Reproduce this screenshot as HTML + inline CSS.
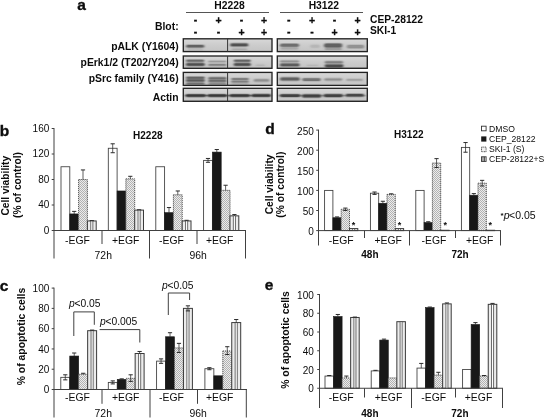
<!DOCTYPE html>
<html lang="en">
<head>
<meta charset="utf-8">
<title>Figure: CEP-28122 and SKI-1 in H2228 and H3122 cells</title>
<style>
html,body{margin:0;padding:0;background:#fff;}
body{width:545px;height:420px;overflow:hidden;}
svg{display:block;}
svg text{font-family:"Liberation Sans",Arial,Helvetica,sans-serif;fill:#0c0c0c;}
</style>
</head>
<body>
<svg width="545" height="420" viewBox="0 0 545 420">
<defs>
<filter id="bl" x="-5%" y="-5%" width="110%" height="110%"><feGaussianBlur stdDeviation="0.85 0.5"/></filter>
<linearGradient id="bg" x1="0" y1="0" x2="0" y2="1"><stop offset="0" stop-color="#d8d8d8"/><stop offset="0.5" stop-color="#cccccc"/><stop offset="1" stop-color="#c4c4c4"/></linearGradient>
<filter id="fr" x="-2%" y="-10%" width="104%" height="120%"><feGaussianBlur stdDeviation="0.35"/></filter>
<pattern id="dots" width="2" height="2" patternUnits="userSpaceOnUse">
<rect width="2" height="2" fill="#ececec"/>
<rect x="0" y="0" width="1" height="1" fill="#b2b2b2"/>
<rect x="1" y="1" width="1" height="1" fill="#b2b2b2"/>
</pattern>
</defs>
<rect width="545" height="420" fill="#fff"/>
<g id="panel-a">
<text x="77.2" y="9.7" font-size="15.5" font-weight="bold" stroke="#141414" stroke-width="0.35">a</text>
<text x="178.6" y="29.5" font-size="10.38" font-weight="bold" text-anchor="end">Blot:</text>
<text x="178.6" y="49.5" font-size="10.38" font-weight="bold" text-anchor="end">pALK (Y1604)</text>
<text x="178.6" y="65.6" font-size="10.38" font-weight="bold" text-anchor="end">pErk1/2 (T202/Y204)</text>
<text x="178.6" y="82" font-size="10.38" font-weight="bold" text-anchor="end">pSrc family (Y416)</text>
<text x="178.6" y="101.4" font-size="10.38" font-weight="bold" text-anchor="end">Actin</text>
<text x="229.5" y="9.2" font-size="10.3" font-weight="bold" text-anchor="middle">H2228</text>
<text x="323.8" y="9.2" font-size="10.3" font-weight="bold" text-anchor="middle">H3122</text>
<line x1="186" y1="12.5" x2="269" y2="12.5" stroke="#555" stroke-width="1"/>
<line x1="280" y1="12.5" x2="363" y2="12.5" stroke="#555" stroke-width="1"/>
<text x="195.5" y="22.5" font-size="10.5" font-weight="bold" text-anchor="middle" stroke="#141414" stroke-width="0.3">-</text>
<text x="218.5" y="23.75" font-size="10.5" font-weight="bold" text-anchor="middle" stroke="#141414" stroke-width="0.3">+</text>
<text x="241.5" y="22.5" font-size="10.5" font-weight="bold" text-anchor="middle" stroke="#141414" stroke-width="0.3">-</text>
<text x="264" y="23.75" font-size="10.5" font-weight="bold" text-anchor="middle" stroke="#141414" stroke-width="0.3">+</text>
<text x="195.5" y="34.5" font-size="10.5" font-weight="bold" text-anchor="middle" stroke="#141414" stroke-width="0.3">-</text>
<text x="218.5" y="34.5" font-size="10.5" font-weight="bold" text-anchor="middle" stroke="#141414" stroke-width="0.3">-</text>
<text x="241.5" y="35.8" font-size="10.5" font-weight="bold" text-anchor="middle" stroke="#141414" stroke-width="0.3">+</text>
<text x="264" y="35.8" font-size="10.5" font-weight="bold" text-anchor="middle" stroke="#141414" stroke-width="0.3">+</text>
<text x="288.75" y="22.5" font-size="10.5" font-weight="bold" text-anchor="middle" stroke="#141414" stroke-width="0.3">-</text>
<text x="312" y="23.75" font-size="10.5" font-weight="bold" text-anchor="middle" stroke="#141414" stroke-width="0.3">+</text>
<text x="334.5" y="22.5" font-size="10.5" font-weight="bold" text-anchor="middle" stroke="#141414" stroke-width="0.3">-</text>
<text x="357.5" y="23.75" font-size="10.5" font-weight="bold" text-anchor="middle" stroke="#141414" stroke-width="0.3">+</text>
<text x="288.75" y="34.5" font-size="10.5" font-weight="bold" text-anchor="middle" stroke="#141414" stroke-width="0.3">-</text>
<text x="312" y="34.5" font-size="10.5" font-weight="bold" text-anchor="middle" stroke="#141414" stroke-width="0.3">-</text>
<text x="334.5" y="35.8" font-size="10.5" font-weight="bold" text-anchor="middle" stroke="#141414" stroke-width="0.3">+</text>
<text x="357.5" y="35.8" font-size="10.5" font-weight="bold" text-anchor="middle" stroke="#141414" stroke-width="0.3">+</text>
<text x="370" y="22.5" font-size="10.25" font-weight="bold">CEP-28122</text>
<text x="370" y="34.2" font-size="10.25" font-weight="bold">SKI-1</text>
<rect x="183.3" y="38.8" width="88.69999999999999" height="12.80" fill="url(#bg)"/>
<rect x="183.3" y="56" width="88.69999999999999" height="12.30" fill="url(#bg)"/>
<rect x="183.3" y="72.4" width="88.69999999999999" height="13.00" fill="url(#bg)"/>
<rect x="183.3" y="88.3" width="88.69999999999999" height="13.00" fill="url(#bg)"/>
<rect x="277.3" y="38.8" width="90.0" height="12.80" fill="url(#bg)"/>
<rect x="277.3" y="56" width="90.0" height="12.30" fill="url(#bg)"/>
<rect x="277.3" y="72.4" width="90.0" height="13.00" fill="url(#bg)"/>
<rect x="277.3" y="88.3" width="90.0" height="13.00" fill="url(#bg)"/>
<g filter="url(#bl)">
<rect x="185.70" y="44.10" width="19.10" height="4.40" rx="2.20" fill="#4a4a4a" opacity="0.25"/>
<rect x="186.5" y="45.00" width="17.50" height="2.6" rx="1.3" fill="#4a4a4a" opacity="0.76"/>
<rect x="229.70" y="42.60" width="19.10" height="4.60" rx="2.30" fill="#3c3c3c" opacity="0.27"/>
<rect x="230.5" y="43.50" width="17.50" height="2.8" rx="1.4" fill="#3c3c3c" opacity="0.80"/>
<rect x="231.20" y="47.60" width="16.60" height="3.40" rx="1.70" fill="#888" opacity="0.13"/>
<rect x="232" y="48.50" width="15.00" height="1.6" rx="0.8" fill="#888" opacity="0.38"/>
<rect x="187.20" y="48.20" width="16.60" height="3.20" rx="1.60" fill="#999" opacity="0.08"/>
<rect x="188" y="49.10" width="15.00" height="1.4" rx="0.7" fill="#999" opacity="0.25"/>
<rect x="185.50" y="58.90" width="19.30" height="3.80" rx="1.90" fill="#555" opacity="0.25"/>
<rect x="186.3" y="59.80" width="17.70" height="2.0" rx="1.0" fill="#555" opacity="0.76"/>
<rect x="185.50" y="62.30" width="19.80" height="4.40" rx="2.20" fill="#383838" opacity="0.27"/>
<rect x="186.3" y="63.20" width="18.20" height="2.6" rx="1.3" fill="#383838" opacity="0.80"/>
<rect x="207.70" y="59.75" width="19.10" height="3.30" rx="1.65" fill="#777" opacity="0.17"/>
<rect x="208.5" y="60.65" width="17.50" height="1.5" rx="0.75" fill="#777" opacity="0.50"/>
<rect x="207.70" y="63.05" width="19.10" height="3.70" rx="1.85" fill="#666" opacity="0.21"/>
<rect x="208.5" y="63.95" width="17.50" height="1.9" rx="0.95" fill="#666" opacity="0.63"/>
<rect x="233.20" y="58.90" width="18.10" height="3.80" rx="1.90" fill="#505050" opacity="0.25"/>
<rect x="234" y="59.80" width="16.50" height="2.0" rx="1.0" fill="#505050" opacity="0.76"/>
<rect x="233.20" y="62.30" width="18.10" height="4.40" rx="2.20" fill="#383838" opacity="0.27"/>
<rect x="234" y="63.20" width="16.50" height="2.6" rx="1.3" fill="#383838" opacity="0.80"/>
<rect x="255.20" y="63.60" width="10.10" height="3.20" rx="1.60" fill="#999" opacity="0.11"/>
<rect x="256" y="64.50" width="8.50" height="1.4" rx="0.7" fill="#999" opacity="0.34"/>
<rect x="185.50" y="76.55" width="19.80" height="7.30" rx="3.65" fill="#777" opacity="0.10"/>
<rect x="186.3" y="77.45" width="18.20" height="5.5" rx="2.75" fill="#777" opacity="0.29"/>
<rect x="207.70" y="76.75" width="19.40" height="7.30" rx="3.65" fill="#777" opacity="0.08"/>
<rect x="208.5" y="77.65" width="17.80" height="5.5" rx="2.75" fill="#777" opacity="0.25"/>
<rect x="185.50" y="75.90" width="19.80" height="3.80" rx="1.90" fill="#4a4a4a" opacity="0.24"/>
<rect x="186.3" y="76.80" width="18.20" height="2.0" rx="1.0" fill="#4a4a4a" opacity="0.71"/>
<rect x="185.50" y="78.70" width="19.80" height="3.80" rx="1.90" fill="#444" opacity="0.24"/>
<rect x="186.3" y="79.60" width="18.20" height="2.0" rx="1.0" fill="#444" opacity="0.71"/>
<rect x="185.50" y="82.10" width="19.80" height="3.40" rx="1.70" fill="#555" opacity="0.22"/>
<rect x="186.3" y="83.00" width="18.20" height="1.6" rx="0.8" fill="#555" opacity="0.67"/>
<rect x="207.70" y="76.35" width="19.40" height="3.70" rx="1.85" fill="#555" opacity="0.22"/>
<rect x="208.5" y="77.25" width="17.80" height="1.9" rx="0.95" fill="#555" opacity="0.67"/>
<rect x="207.70" y="79.05" width="19.40" height="3.70" rx="1.85" fill="#555" opacity="0.22"/>
<rect x="208.5" y="79.95" width="17.80" height="1.9" rx="0.95" fill="#555" opacity="0.67"/>
<rect x="207.70" y="82.30" width="19.40" height="3.20" rx="1.60" fill="#666" opacity="0.20"/>
<rect x="208.5" y="83.20" width="17.80" height="1.4" rx="0.7" fill="#666" opacity="0.59"/>
<rect x="230.70" y="77.15" width="18.60" height="3.70" rx="1.85" fill="#666" opacity="0.22"/>
<rect x="231.5" y="78.05" width="17.00" height="1.9" rx="0.95" fill="#666" opacity="0.67"/>
<rect x="230.70" y="79.75" width="18.60" height="3.70" rx="1.85" fill="#666" opacity="0.22"/>
<rect x="231.5" y="80.65" width="17.00" height="1.9" rx="0.95" fill="#666" opacity="0.67"/>
<rect x="230.70" y="82.60" width="18.60" height="2.80" rx="1.40" fill="#888" opacity="0.14"/>
<rect x="231.5" y="83.50" width="17.00" height="1.0" rx="0.5" fill="#888" opacity="0.42"/>
<rect x="253.20" y="78.30" width="16.60" height="4.20" rx="2.10" fill="#777" opacity="0.21"/>
<rect x="254" y="79.20" width="15.00" height="2.4" rx="1.2" fill="#777" opacity="0.63"/>
<rect x="184.20" y="94.00" width="87.10" height="3.20" rx="1.60" fill="#555" opacity="0.22"/>
<rect x="185" y="94.90" width="85.50" height="1.4" rx="0.7" fill="#555" opacity="0.67"/>
<rect x="185.20" y="93.45" width="21.10" height="4.30" rx="2.15" fill="#2e2e2e" opacity="0.27"/>
<rect x="186" y="94.35" width="19.50" height="2.5" rx="1.25" fill="#2e2e2e" opacity="0.80"/>
<rect x="207.20" y="93.45" width="20.10" height="4.30" rx="2.15" fill="#2e2e2e" opacity="0.27"/>
<rect x="208" y="94.35" width="18.50" height="2.5" rx="1.25" fill="#2e2e2e" opacity="0.80"/>
<rect x="229.20" y="93.45" width="21.10" height="4.30" rx="2.15" fill="#2e2e2e" opacity="0.27"/>
<rect x="230" y="94.35" width="19.50" height="2.5" rx="1.25" fill="#2e2e2e" opacity="0.80"/>
<rect x="251.20" y="93.25" width="20.10" height="4.30" rx="2.15" fill="#2e2e2e" opacity="0.27"/>
<rect x="252" y="94.15" width="18.50" height="2.5" rx="1.25" fill="#2e2e2e" opacity="0.80"/>
<rect x="279.50" y="42.90" width="20.10" height="4.80" rx="2.40" fill="#555" opacity="0.24"/>
<rect x="280.3" y="43.80" width="18.50" height="3.0" rx="1.5" fill="#555" opacity="0.71"/>
<rect x="280.20" y="46.80" width="18.60" height="3.60" rx="1.80" fill="#888" opacity="0.14"/>
<rect x="281" y="47.70" width="17.00" height="1.8" rx="0.9" fill="#888" opacity="0.42"/>
<rect x="309.70" y="43.80" width="10.60" height="4.80" rx="2.40" fill="#999" opacity="0.11"/>
<rect x="310.5" y="44.70" width="9.00" height="3.0" rx="1.5" fill="#999" opacity="0.34"/>
<rect x="323.40" y="42.70" width="19.40" height="5.60" rx="2.80" fill="#484848" opacity="0.25"/>
<rect x="324.2" y="43.60" width="17.80" height="3.8" rx="1.9" fill="#484848" opacity="0.76"/>
<rect x="324.20" y="47.20" width="18.10" height="3.60" rx="1.80" fill="#777" opacity="0.15"/>
<rect x="325" y="48.10" width="16.50" height="1.8" rx="0.9" fill="#777" opacity="0.46"/>
<rect x="346.20" y="44.10" width="18.60" height="5.00" rx="2.50" fill="#777" opacity="0.20"/>
<rect x="347" y="45.00" width="17.00" height="3.2" rx="1.6" fill="#777" opacity="0.59"/>
<rect x="279.50" y="59.50" width="20.10" height="3.60" rx="1.80" fill="#777" opacity="0.20"/>
<rect x="280.3" y="60.40" width="18.50" height="1.8" rx="0.9" fill="#777" opacity="0.59"/>
<rect x="279.50" y="62.70" width="20.60" height="4.40" rx="2.20" fill="#444" opacity="0.25"/>
<rect x="280.3" y="63.60" width="19.00" height="2.6" rx="1.3" fill="#444" opacity="0.76"/>
<rect x="306.20" y="63.80" width="12.60" height="3.20" rx="1.60" fill="#999" opacity="0.10"/>
<rect x="307" y="64.70" width="11.00" height="1.4" rx="0.7" fill="#999" opacity="0.29"/>
<rect x="324.20" y="60.30" width="19.40" height="3.80" rx="1.90" fill="#666" opacity="0.22"/>
<rect x="325" y="61.20" width="17.80" height="2.0" rx="1.0" fill="#666" opacity="0.67"/>
<rect x="324.20" y="63.50" width="19.80" height="4.60" rx="2.30" fill="#3a3a3a" opacity="0.27"/>
<rect x="325" y="64.40" width="18.20" height="2.8" rx="1.4" fill="#3a3a3a" opacity="0.80"/>
<rect x="279.50" y="76.60" width="20.80" height="4.80" rx="2.40" fill="#484848" opacity="0.25"/>
<rect x="280.3" y="77.50" width="19.20" height="3.0" rx="1.5" fill="#484848" opacity="0.76"/>
<rect x="301.70" y="77.40" width="19.60" height="4.40" rx="2.20" fill="#5a5a5a" opacity="0.24"/>
<rect x="302.5" y="78.30" width="18.00" height="2.6" rx="1.3" fill="#5a5a5a" opacity="0.71"/>
<rect x="323.70" y="77.50" width="19.10" height="4.00" rx="2.00" fill="#777" opacity="0.21"/>
<rect x="324.5" y="78.40" width="17.50" height="2.2" rx="1.1" fill="#777" opacity="0.63"/>
<rect x="345.70" y="78.10" width="17.60" height="3.60" rx="1.80" fill="#888" opacity="0.18"/>
<rect x="346.5" y="79.00" width="16.00" height="1.8" rx="0.9" fill="#888" opacity="0.55"/>
<rect x="278.20" y="94.10" width="88.10" height="3.00" rx="1.50" fill="#666" opacity="0.17"/>
<rect x="279" y="95.00" width="86.50" height="1.2" rx="0.6" fill="#666" opacity="0.50"/>
<rect x="279.50" y="93.40" width="21.30" height="4.40" rx="2.20" fill="#333" opacity="0.27"/>
<rect x="280.3" y="94.30" width="19.70" height="2.6" rx="1.3" fill="#333" opacity="0.80"/>
<rect x="301.50" y="93.50" width="20.30" height="4.80" rx="2.40" fill="#333" opacity="0.27"/>
<rect x="302.3" y="94.40" width="18.70" height="3.0" rx="1.5" fill="#333" opacity="0.80"/>
<rect x="323.20" y="93.30" width="20.10" height="4.60" rx="2.30" fill="#333" opacity="0.27"/>
<rect x="324" y="94.20" width="18.50" height="2.8" rx="1.4" fill="#333" opacity="0.80"/>
<rect x="345.20" y="93.10" width="19.10" height="4.40" rx="2.20" fill="#3a3a3a" opacity="0.27"/>
<rect x="346" y="94.00" width="17.50" height="2.6" rx="1.3" fill="#3a3a3a" opacity="0.80"/>
</g>
<g filter="url(#fr)">
<rect x="183.3" y="38.8" width="88.69999999999999" height="12.80" fill="none" stroke="#222" stroke-width="1.35"/>
<line x1="227.6" y1="38.8" x2="227.6" y2="51.6" stroke="#333" stroke-width="1"/>
<rect x="183.3" y="56" width="88.69999999999999" height="12.30" fill="none" stroke="#222" stroke-width="1.35"/>
<line x1="227.6" y1="56" x2="227.6" y2="68.3" stroke="#333" stroke-width="1"/>
<rect x="183.3" y="72.4" width="88.69999999999999" height="13.00" fill="none" stroke="#222" stroke-width="1.35"/>
<line x1="227.6" y1="72.4" x2="227.6" y2="85.4" stroke="#333" stroke-width="1"/>
<rect x="183.3" y="88.3" width="88.69999999999999" height="13.00" fill="none" stroke="#222" stroke-width="1.35"/>
<line x1="227.6" y1="88.3" x2="227.6" y2="101.3" stroke="#333" stroke-width="1"/>
<rect x="277.3" y="38.8" width="90.0" height="12.80" fill="none" stroke="#222" stroke-width="1.35"/>
<rect x="277.3" y="56" width="90.0" height="12.30" fill="none" stroke="#222" stroke-width="1.35"/>
<rect x="277.3" y="72.4" width="90.0" height="13.00" fill="none" stroke="#222" stroke-width="1.35"/>
<rect x="277.3" y="88.3" width="90.0" height="13.00" fill="none" stroke="#222" stroke-width="1.35"/>
</g>
</g>
<text x="-0.3" y="135.9" font-size="15.5" font-weight="bold" stroke="#141414" stroke-width="0.35">b</text>
<text transform="translate(8.7 185.7) rotate(-90)" font-size="10.25" font-weight="bold" text-anchor="middle">Cell viability</text>
<text transform="translate(20.8 185) rotate(-90)" font-size="10.25" font-weight="bold" text-anchor="middle">(% of control)</text>
<text x="147.8" y="138.6" font-size="10" font-weight="bold" text-anchor="middle">H2228</text>
<g id="panel-b">
<rect x="61.00" y="166.75" width="8.80" height="63.75" fill="#fff" stroke="#3c3c3c" stroke-width="0.85"/>
<rect x="69.80" y="213.93" width="8.80" height="16.57" fill="#181818" stroke="#181818" stroke-width="0.6"/>
<rect x="78.60" y="179.50" width="8.80" height="51.00" fill="url(#dots)" stroke="#555" stroke-width="1" stroke-dasharray="1.2 0.8"/>
<rect x="87.40" y="220.94" width="8.80" height="9.56" fill="#ececec" stroke="#3a3a3a" stroke-width="1"/>
<rect x="90.74" y="221.44" width="2.11" height="9.06" fill="#fff"/>
<line x1="90.74" y1="220.94" x2="90.74" y2="230.50" stroke="#4a4a4a" stroke-width="0.8"/>
<line x1="92.86" y1="220.94" x2="92.86" y2="230.50" stroke="#4a4a4a" stroke-width="0.8"/>
<line x1="74.20" y1="211.38" x2="74.20" y2="213.93" stroke="#2a2a2a" stroke-width="0.75"/>
<line x1="72.10" y1="211.38" x2="76.30" y2="211.38" stroke="#2a2a2a" stroke-width="1"/>
<line x1="83.00" y1="169.94" x2="83.00" y2="179.50" stroke="#2a2a2a" stroke-width="0.75"/>
<line x1="80.90" y1="169.94" x2="85.10" y2="169.94" stroke="#2a2a2a" stroke-width="1"/>
<line x1="91.80" y1="220.62" x2="91.80" y2="220.94" stroke="#2a2a2a" stroke-width="0.75"/>
<line x1="89.70" y1="220.62" x2="93.90" y2="220.62" stroke="#2a2a2a" stroke-width="1"/>
<rect x="108.30" y="148.26" width="8.80" height="82.24" fill="#fff" stroke="#3c3c3c" stroke-width="0.85"/>
<rect x="117.10" y="190.97" width="8.80" height="39.53" fill="#181818" stroke="#181818" stroke-width="0.6"/>
<rect x="125.90" y="178.86" width="8.80" height="51.64" fill="url(#dots)" stroke="#555" stroke-width="1" stroke-dasharray="1.2 0.8"/>
<rect x="134.70" y="210.10" width="8.80" height="20.40" fill="#ececec" stroke="#3a3a3a" stroke-width="1"/>
<rect x="138.04" y="210.60" width="2.11" height="19.90" fill="#fff"/>
<line x1="138.04" y1="210.10" x2="138.04" y2="230.50" stroke="#4a4a4a" stroke-width="0.8"/>
<line x1="140.16" y1="210.10" x2="140.16" y2="230.50" stroke="#4a4a4a" stroke-width="0.8"/>
<line x1="112.70" y1="143.80" x2="112.70" y2="152.72" stroke="#2a2a2a" stroke-width="0.75"/>
<line x1="110.60" y1="143.80" x2="114.80" y2="143.80" stroke="#2a2a2a" stroke-width="1"/>
<line x1="110.60" y1="152.72" x2="114.80" y2="152.72" stroke="#2a2a2a" stroke-width="1"/>
<line x1="130.30" y1="176.31" x2="130.30" y2="178.86" stroke="#2a2a2a" stroke-width="0.75"/>
<line x1="128.20" y1="176.31" x2="132.40" y2="176.31" stroke="#2a2a2a" stroke-width="1"/>
<line x1="139.10" y1="209.78" x2="139.10" y2="210.10" stroke="#2a2a2a" stroke-width="0.75"/>
<line x1="137.00" y1="209.78" x2="141.20" y2="209.78" stroke="#2a2a2a" stroke-width="1"/>
<rect x="155.80" y="166.75" width="8.80" height="63.75" fill="#fff" stroke="#3c3c3c" stroke-width="0.85"/>
<rect x="164.60" y="212.65" width="8.80" height="17.85" fill="#181818" stroke="#181818" stroke-width="0.6"/>
<rect x="173.40" y="194.80" width="8.80" height="35.70" fill="url(#dots)" stroke="#555" stroke-width="1" stroke-dasharray="1.2 0.8"/>
<rect x="182.20" y="220.94" width="8.80" height="9.56" fill="#ececec" stroke="#3a3a3a" stroke-width="1"/>
<rect x="185.54" y="221.44" width="2.11" height="9.06" fill="#fff"/>
<line x1="185.54" y1="220.94" x2="185.54" y2="230.50" stroke="#4a4a4a" stroke-width="0.8"/>
<line x1="187.66" y1="220.94" x2="187.66" y2="230.50" stroke="#4a4a4a" stroke-width="0.8"/>
<line x1="169.00" y1="207.55" x2="169.00" y2="212.65" stroke="#2a2a2a" stroke-width="0.75"/>
<line x1="166.90" y1="207.55" x2="171.10" y2="207.55" stroke="#2a2a2a" stroke-width="1"/>
<line x1="177.80" y1="190.98" x2="177.80" y2="194.80" stroke="#2a2a2a" stroke-width="0.75"/>
<line x1="175.70" y1="190.98" x2="179.90" y2="190.98" stroke="#2a2a2a" stroke-width="1"/>
<line x1="186.60" y1="220.30" x2="186.60" y2="220.94" stroke="#2a2a2a" stroke-width="0.75"/>
<line x1="184.50" y1="220.30" x2="188.70" y2="220.30" stroke="#2a2a2a" stroke-width="1"/>
<rect x="203.60" y="160.38" width="8.80" height="70.12" fill="#fff" stroke="#3c3c3c" stroke-width="0.85"/>
<rect x="212.40" y="152.09" width="8.80" height="78.41" fill="#181818" stroke="#181818" stroke-width="0.6"/>
<rect x="221.20" y="190.34" width="8.80" height="40.16" fill="url(#dots)" stroke="#555" stroke-width="1" stroke-dasharray="1.2 0.8"/>
<rect x="230.00" y="215.84" width="8.80" height="14.66" fill="#ececec" stroke="#3a3a3a" stroke-width="1"/>
<rect x="233.34" y="216.34" width="2.11" height="14.16" fill="#fff"/>
<line x1="233.34" y1="215.84" x2="233.34" y2="230.50" stroke="#4a4a4a" stroke-width="0.8"/>
<line x1="235.46" y1="215.84" x2="235.46" y2="230.50" stroke="#4a4a4a" stroke-width="0.8"/>
<line x1="208.00" y1="158.46" x2="208.00" y2="162.29" stroke="#2a2a2a" stroke-width="0.75"/>
<line x1="205.90" y1="158.46" x2="210.10" y2="158.46" stroke="#2a2a2a" stroke-width="1"/>
<line x1="205.90" y1="162.29" x2="210.10" y2="162.29" stroke="#2a2a2a" stroke-width="1"/>
<line x1="216.80" y1="149.54" x2="216.80" y2="152.09" stroke="#2a2a2a" stroke-width="0.75"/>
<line x1="214.70" y1="149.54" x2="218.90" y2="149.54" stroke="#2a2a2a" stroke-width="1"/>
<line x1="225.60" y1="185.24" x2="225.60" y2="190.34" stroke="#2a2a2a" stroke-width="0.75"/>
<line x1="223.50" y1="185.24" x2="227.70" y2="185.24" stroke="#2a2a2a" stroke-width="1"/>
<line x1="234.40" y1="214.56" x2="234.40" y2="215.84" stroke="#2a2a2a" stroke-width="0.75"/>
<line x1="232.30" y1="214.56" x2="236.50" y2="214.56" stroke="#2a2a2a" stroke-width="1"/>
<line x1="54" y1="128.0" x2="54" y2="258.5" stroke="#404040" stroke-width="1"/>
<line x1="53.5" y1="230.5" x2="246.0" y2="230.5" stroke="#404040" stroke-width="1"/>
<line x1="51.7" y1="230.5" x2="54" y2="230.5" stroke="#404040" stroke-width="1"/>
<text x="49.5" y="233.9" font-size="10" text-anchor="end" letter-spacing="0.1">0</text>
<line x1="51.7" y1="205.0" x2="54" y2="205.0" stroke="#404040" stroke-width="1"/>
<text x="49.5" y="208.4" font-size="10" text-anchor="end" letter-spacing="0.1">40</text>
<line x1="51.7" y1="179.5" x2="54" y2="179.5" stroke="#404040" stroke-width="1"/>
<text x="49.5" y="182.9" font-size="10" text-anchor="end" letter-spacing="0.1">80</text>
<line x1="51.7" y1="154.0" x2="54" y2="154.0" stroke="#404040" stroke-width="1"/>
<text x="49.5" y="157.4" font-size="10" text-anchor="end" letter-spacing="0.1">120</text>
<line x1="51.7" y1="128.5" x2="54" y2="128.5" stroke="#404040" stroke-width="1"/>
<text x="49.5" y="131.9" font-size="10" text-anchor="end" letter-spacing="0.1">160</text>
<line x1="102" y1="230.5" x2="102" y2="244" stroke="#404040" stroke-width="1"/>
<line x1="149.5" y1="230.5" x2="149.5" y2="258.5" stroke="#404040" stroke-width="1"/>
<line x1="197" y1="230.5" x2="197" y2="244" stroke="#404040" stroke-width="1"/>
<line x1="245.5" y1="230.5" x2="245.5" y2="258.5" stroke="#404040" stroke-width="1"/>
</g>
<text x="65" y="243.8" font-size="10.4">-EGF</text>
<text x="112" y="243.8" font-size="10.4">+EGF</text>
<text x="159" y="243.8" font-size="10.4">-EGF</text>
<text x="206" y="243.8" font-size="10.4">+EGF</text>
<text x="94.6" y="258.5" font-size="10.4">72h</text>
<text x="189.4" y="258.5" font-size="10.4">96h</text>
<text x="-0.2" y="290.7" font-size="15.5" font-weight="bold" stroke="#141414" stroke-width="0.35">c</text>
<text transform="translate(25.2 336.5) rotate(-90)" font-size="10.4" font-weight="bold" text-anchor="middle">% of apoptotic cells</text>
<g id="panel-c">
<rect x="60.80" y="377.33" width="8.95" height="12.17" fill="#fff" stroke="#3c3c3c" stroke-width="0.85"/>
<rect x="69.75" y="356.04" width="8.95" height="33.46" fill="#181818" stroke="#181818" stroke-width="0.6"/>
<rect x="78.70" y="374.29" width="8.95" height="15.21" fill="url(#dots)" stroke="#555" stroke-width="1" stroke-dasharray="1.2 0.8"/>
<rect x="87.65" y="330.69" width="8.95" height="58.81" fill="#ececec" stroke="#3a3a3a" stroke-width="1"/>
<rect x="91.05" y="331.19" width="2.15" height="58.31" fill="#fff"/>
<line x1="91.05" y1="330.69" x2="91.05" y2="389.50" stroke="#4a4a4a" stroke-width="0.8"/>
<line x1="93.20" y1="330.69" x2="93.20" y2="389.50" stroke="#4a4a4a" stroke-width="0.8"/>
<line x1="65.28" y1="374.80" x2="65.28" y2="379.87" stroke="#2a2a2a" stroke-width="0.75"/>
<line x1="63.18" y1="374.80" x2="67.38" y2="374.80" stroke="#2a2a2a" stroke-width="1"/>
<line x1="63.18" y1="379.87" x2="67.38" y2="379.87" stroke="#2a2a2a" stroke-width="1"/>
<line x1="74.22" y1="353.00" x2="74.22" y2="356.04" stroke="#2a2a2a" stroke-width="0.75"/>
<line x1="72.12" y1="353.00" x2="76.32" y2="353.00" stroke="#2a2a2a" stroke-width="1"/>
<line x1="83.17" y1="373.28" x2="83.17" y2="374.29" stroke="#2a2a2a" stroke-width="0.75"/>
<line x1="81.07" y1="373.28" x2="85.27" y2="373.28" stroke="#2a2a2a" stroke-width="1"/>
<line x1="92.12" y1="330.08" x2="92.12" y2="330.69" stroke="#2a2a2a" stroke-width="0.75"/>
<line x1="90.03" y1="330.08" x2="94.22" y2="330.08" stroke="#2a2a2a" stroke-width="1"/>
<rect x="108.30" y="382.40" width="8.95" height="7.10" fill="#fff" stroke="#3c3c3c" stroke-width="0.85"/>
<rect x="117.25" y="379.36" width="8.95" height="10.14" fill="#181818" stroke="#181818" stroke-width="0.6"/>
<rect x="126.20" y="378.35" width="8.95" height="11.15" fill="url(#dots)" stroke="#555" stroke-width="1" stroke-dasharray="1.2 0.8"/>
<rect x="135.15" y="353.50" width="8.95" height="36.00" fill="#ececec" stroke="#3a3a3a" stroke-width="1"/>
<rect x="138.55" y="354.00" width="2.15" height="35.50" fill="#fff"/>
<line x1="138.55" y1="353.50" x2="138.55" y2="389.50" stroke="#4a4a4a" stroke-width="0.8"/>
<line x1="140.70" y1="353.50" x2="140.70" y2="389.50" stroke="#4a4a4a" stroke-width="0.8"/>
<line x1="112.78" y1="380.88" x2="112.78" y2="383.92" stroke="#2a2a2a" stroke-width="0.75"/>
<line x1="110.68" y1="380.88" x2="114.88" y2="380.88" stroke="#2a2a2a" stroke-width="1"/>
<line x1="110.68" y1="383.92" x2="114.88" y2="383.92" stroke="#2a2a2a" stroke-width="1"/>
<line x1="121.72" y1="378.85" x2="121.72" y2="379.36" stroke="#2a2a2a" stroke-width="0.75"/>
<line x1="119.62" y1="378.85" x2="123.82" y2="378.85" stroke="#2a2a2a" stroke-width="1"/>
<line x1="130.68" y1="374.80" x2="130.68" y2="381.39" stroke="#2a2a2a" stroke-width="0.75"/>
<line x1="128.58" y1="374.80" x2="132.78" y2="374.80" stroke="#2a2a2a" stroke-width="1"/>
<line x1="128.58" y1="381.39" x2="132.78" y2="381.39" stroke="#2a2a2a" stroke-width="1"/>
<line x1="139.62" y1="351.47" x2="139.62" y2="353.50" stroke="#2a2a2a" stroke-width="0.75"/>
<line x1="137.53" y1="351.47" x2="141.72" y2="351.47" stroke="#2a2a2a" stroke-width="1"/>
<rect x="156.60" y="361.11" width="8.95" height="28.39" fill="#fff" stroke="#3c3c3c" stroke-width="0.85"/>
<rect x="165.55" y="336.77" width="8.95" height="52.73" fill="#181818" stroke="#181818" stroke-width="0.6"/>
<rect x="174.50" y="347.93" width="8.95" height="41.57" fill="url(#dots)" stroke="#555" stroke-width="1" stroke-dasharray="1.2 0.8"/>
<rect x="183.45" y="308.38" width="8.95" height="81.12" fill="#ececec" stroke="#3a3a3a" stroke-width="1"/>
<rect x="186.85" y="308.88" width="2.15" height="80.62" fill="#fff"/>
<line x1="186.85" y1="308.38" x2="186.85" y2="389.50" stroke="#4a4a4a" stroke-width="0.8"/>
<line x1="189.00" y1="308.38" x2="189.00" y2="389.50" stroke="#4a4a4a" stroke-width="0.8"/>
<line x1="161.07" y1="358.88" x2="161.07" y2="363.34" stroke="#2a2a2a" stroke-width="0.75"/>
<line x1="158.97" y1="358.88" x2="163.17" y2="358.88" stroke="#2a2a2a" stroke-width="1"/>
<line x1="158.97" y1="363.34" x2="163.17" y2="363.34" stroke="#2a2a2a" stroke-width="1"/>
<line x1="170.02" y1="332.72" x2="170.02" y2="336.77" stroke="#2a2a2a" stroke-width="0.75"/>
<line x1="167.92" y1="332.72" x2="172.12" y2="332.72" stroke="#2a2a2a" stroke-width="1"/>
<line x1="178.97" y1="343.36" x2="178.97" y2="352.49" stroke="#2a2a2a" stroke-width="0.75"/>
<line x1="176.88" y1="343.36" x2="181.07" y2="343.36" stroke="#2a2a2a" stroke-width="1"/>
<line x1="176.88" y1="352.49" x2="181.07" y2="352.49" stroke="#2a2a2a" stroke-width="1"/>
<line x1="187.92" y1="305.84" x2="187.92" y2="310.92" stroke="#2a2a2a" stroke-width="0.75"/>
<line x1="185.82" y1="305.84" x2="190.02" y2="305.84" stroke="#2a2a2a" stroke-width="1"/>
<line x1="185.82" y1="310.92" x2="190.02" y2="310.92" stroke="#2a2a2a" stroke-width="1"/>
<rect x="204.90" y="368.71" width="8.95" height="20.79" fill="#fff" stroke="#3c3c3c" stroke-width="0.85"/>
<rect x="213.85" y="375.81" width="8.95" height="13.69" fill="#181818" stroke="#181818" stroke-width="0.6"/>
<rect x="222.80" y="350.97" width="8.95" height="38.53" fill="url(#dots)" stroke="#555" stroke-width="1" stroke-dasharray="1.2 0.8"/>
<rect x="231.75" y="322.58" width="8.95" height="66.92" fill="#ececec" stroke="#3a3a3a" stroke-width="1"/>
<rect x="235.15" y="323.08" width="2.15" height="66.42" fill="#fff"/>
<line x1="235.15" y1="322.58" x2="235.15" y2="389.50" stroke="#4a4a4a" stroke-width="0.8"/>
<line x1="237.30" y1="322.58" x2="237.30" y2="389.50" stroke="#4a4a4a" stroke-width="0.8"/>
<line x1="209.38" y1="367.70" x2="209.38" y2="369.73" stroke="#2a2a2a" stroke-width="0.75"/>
<line x1="207.28" y1="367.70" x2="211.47" y2="367.70" stroke="#2a2a2a" stroke-width="1"/>
<line x1="207.28" y1="369.73" x2="211.47" y2="369.73" stroke="#2a2a2a" stroke-width="1"/>
<line x1="227.28" y1="346.71" x2="227.28" y2="354.52" stroke="#2a2a2a" stroke-width="0.75"/>
<line x1="225.18" y1="346.71" x2="229.38" y2="346.71" stroke="#2a2a2a" stroke-width="1"/>
<line x1="225.18" y1="354.52" x2="229.38" y2="354.52" stroke="#2a2a2a" stroke-width="1"/>
<line x1="236.22" y1="319.53" x2="236.22" y2="322.58" stroke="#2a2a2a" stroke-width="0.75"/>
<line x1="234.12" y1="319.53" x2="238.32" y2="319.53" stroke="#2a2a2a" stroke-width="1"/>
<line x1="54" y1="287.6" x2="54" y2="417.5" stroke="#404040" stroke-width="1"/>
<line x1="53.5" y1="389.5" x2="247.0" y2="389.5" stroke="#404040" stroke-width="1"/>
<line x1="51.7" y1="389.5" x2="54" y2="389.5" stroke="#404040" stroke-width="1"/>
<text x="49.5" y="393.3" font-size="10" text-anchor="end" letter-spacing="0.1">0</text>
<line x1="51.7" y1="369.22" x2="54" y2="369.22" stroke="#404040" stroke-width="1"/>
<text x="49.5" y="373.02" font-size="10" text-anchor="end" letter-spacing="0.1">20</text>
<line x1="51.7" y1="348.94" x2="54" y2="348.94" stroke="#404040" stroke-width="1"/>
<text x="49.5" y="352.74" font-size="10" text-anchor="end" letter-spacing="0.1">40</text>
<line x1="51.7" y1="328.65999999999997" x2="54" y2="328.65999999999997" stroke="#404040" stroke-width="1"/>
<text x="49.5" y="332.46" font-size="10" text-anchor="end" letter-spacing="0.1">60</text>
<line x1="51.7" y1="308.38" x2="54" y2="308.38" stroke="#404040" stroke-width="1"/>
<text x="49.5" y="312.18" font-size="10" text-anchor="end" letter-spacing="0.1">80</text>
<line x1="51.7" y1="288.1" x2="54" y2="288.1" stroke="#404040" stroke-width="1"/>
<text x="49.5" y="291.9" font-size="10" text-anchor="end" letter-spacing="0.1">100</text>
<line x1="102" y1="389.5" x2="102" y2="403.8" stroke="#404040" stroke-width="1"/>
<line x1="150" y1="389.5" x2="150" y2="417.5" stroke="#404040" stroke-width="1"/>
<line x1="197.5" y1="389.5" x2="197.5" y2="403.8" stroke="#404040" stroke-width="1"/>
<line x1="246.3" y1="389.5" x2="246.3" y2="417.5" stroke="#404040" stroke-width="1"/>
</g>
<text x="65" y="401.2" font-size="10.4">-EGF</text>
<text x="112" y="401.2" font-size="10.4">+EGF</text>
<text x="159" y="401.2" font-size="10.4">-EGF</text>
<text x="206" y="401.2" font-size="10.4">+EGF</text>
<text x="94.6" y="417.2" font-size="10.4">72h</text>
<text x="189.4" y="417.2" font-size="10.4">96h</text>
<text x="69" y="306.6" font-size="10.3"><tspan font-style="italic">p</tspan><tspan dx="-0.3">&lt;0.05</tspan></text>
<polyline points="73.8,336 73.8,311.9 94.3,311.9 94.3,324.8" fill="none" stroke="#404040" stroke-width="1"/>
<text x="100" y="324.7" font-size="10.3"><tspan font-style="italic">p</tspan><tspan dx="-0.3">&lt;0.005</tspan></text>
<polyline points="99.6,329.6 139.8,329.6 139.8,342.5" fill="none" stroke="#404040" stroke-width="1"/>
<text x="162" y="288.7" font-size="10.3"><tspan font-style="italic">p</tspan><tspan dx="-0.3">&lt;0.05</tspan></text>
<polyline points="168.3,315 168.3,293 189.6,293 189.6,300" fill="none" stroke="#404040" stroke-width="1"/>
<text x="265.2" y="134.4" font-size="15.5" font-weight="bold" stroke="#141414" stroke-width="0.35">d</text>
<text transform="translate(273.4 184.4) rotate(-90)" font-size="10.25" font-weight="bold" text-anchor="middle">Cell viability</text>
<text transform="translate(284.3 184.7) rotate(-90)" font-size="10.25" font-weight="bold" text-anchor="middle">(% of control)</text>
<text x="408.8" y="138.4" font-size="10" font-weight="bold" text-anchor="middle">H3122</text>
<g id="panel-d">
<rect x="324.60" y="190.40" width="8.30" height="40.20" fill="#fff" stroke="#3c3c3c" stroke-width="0.85"/>
<rect x="332.90" y="217.74" width="8.30" height="12.86" fill="#181818" stroke="#181818" stroke-width="0.6"/>
<rect x="341.20" y="209.29" width="8.30" height="21.31" fill="url(#dots)" stroke="#555" stroke-width="1" stroke-dasharray="1.2 0.8"/>
<rect x="349.50" y="228.59" width="8.30" height="2.01" fill="#ececec" stroke="#3a3a3a" stroke-width="1"/>
<rect x="352.65" y="229.09" width="1.99" height="1.51" fill="#fff"/>
<line x1="352.65" y1="228.59" x2="352.65" y2="230.60" stroke="#4a4a4a" stroke-width="0.8"/>
<line x1="354.65" y1="228.59" x2="354.65" y2="230.60" stroke="#4a4a4a" stroke-width="0.8"/>
<line x1="337.05" y1="216.93" x2="337.05" y2="217.74" stroke="#2a2a2a" stroke-width="0.75"/>
<line x1="334.95" y1="216.93" x2="339.15" y2="216.93" stroke="#2a2a2a" stroke-width="1"/>
<line x1="345.35" y1="208.09" x2="345.35" y2="210.50" stroke="#2a2a2a" stroke-width="0.75"/>
<line x1="343.25" y1="208.09" x2="347.45" y2="208.09" stroke="#2a2a2a" stroke-width="1"/>
<line x1="343.25" y1="210.50" x2="347.45" y2="210.50" stroke="#2a2a2a" stroke-width="1"/>
<rect x="370.40" y="193.21" width="8.30" height="37.39" fill="#fff" stroke="#3c3c3c" stroke-width="0.85"/>
<rect x="378.70" y="203.26" width="8.30" height="27.34" fill="#181818" stroke="#181818" stroke-width="0.6"/>
<rect x="387.00" y="194.42" width="8.30" height="36.18" fill="url(#dots)" stroke="#555" stroke-width="1" stroke-dasharray="1.2 0.8"/>
<rect x="395.30" y="228.59" width="8.30" height="2.01" fill="#ececec" stroke="#3a3a3a" stroke-width="1"/>
<rect x="398.45" y="229.09" width="1.99" height="1.51" fill="#fff"/>
<line x1="398.45" y1="228.59" x2="398.45" y2="230.60" stroke="#4a4a4a" stroke-width="0.8"/>
<line x1="400.45" y1="228.59" x2="400.45" y2="230.60" stroke="#4a4a4a" stroke-width="0.8"/>
<line x1="374.55" y1="192.01" x2="374.55" y2="194.42" stroke="#2a2a2a" stroke-width="0.75"/>
<line x1="372.45" y1="192.01" x2="376.65" y2="192.01" stroke="#2a2a2a" stroke-width="1"/>
<line x1="372.45" y1="194.42" x2="376.65" y2="194.42" stroke="#2a2a2a" stroke-width="1"/>
<line x1="382.85" y1="201.25" x2="382.85" y2="203.26" stroke="#2a2a2a" stroke-width="0.75"/>
<line x1="380.75" y1="201.25" x2="384.95" y2="201.25" stroke="#2a2a2a" stroke-width="1"/>
<line x1="391.15" y1="193.82" x2="391.15" y2="194.42" stroke="#2a2a2a" stroke-width="0.75"/>
<line x1="389.05" y1="193.82" x2="393.25" y2="193.82" stroke="#2a2a2a" stroke-width="1"/>
<rect x="415.80" y="190.40" width="8.30" height="40.20" fill="#fff" stroke="#3c3c3c" stroke-width="0.85"/>
<rect x="424.10" y="222.56" width="8.30" height="8.04" fill="#181818" stroke="#181818" stroke-width="0.6"/>
<rect x="432.40" y="163.06" width="8.30" height="67.54" fill="url(#dots)" stroke="#555" stroke-width="1" stroke-dasharray="1.2 0.8"/>
<rect x="440.70" y="230.28" width="8.30" height="0.32" fill="#ececec" stroke="#3a3a3a" stroke-width="1"/>
<rect x="443.85" y="230.78" width="1.99" height="0.10" fill="#fff"/>
<line x1="443.85" y1="230.28" x2="443.85" y2="230.60" stroke="#4a4a4a" stroke-width="0.8"/>
<line x1="445.85" y1="230.28" x2="445.85" y2="230.60" stroke="#4a4a4a" stroke-width="0.8"/>
<line x1="428.25" y1="221.76" x2="428.25" y2="222.56" stroke="#2a2a2a" stroke-width="0.75"/>
<line x1="426.15" y1="221.76" x2="430.35" y2="221.76" stroke="#2a2a2a" stroke-width="1"/>
<line x1="436.55" y1="158.64" x2="436.55" y2="167.49" stroke="#2a2a2a" stroke-width="0.75"/>
<line x1="434.45" y1="158.64" x2="438.65" y2="158.64" stroke="#2a2a2a" stroke-width="1"/>
<line x1="434.45" y1="167.49" x2="438.65" y2="167.49" stroke="#2a2a2a" stroke-width="1"/>
<rect x="461.40" y="147.39" width="8.30" height="83.21" fill="#fff" stroke="#3c3c3c" stroke-width="0.85"/>
<rect x="469.70" y="195.22" width="8.30" height="35.38" fill="#181818" stroke="#181818" stroke-width="0.6"/>
<rect x="478.00" y="183.16" width="8.30" height="47.44" fill="url(#dots)" stroke="#555" stroke-width="1" stroke-dasharray="1.2 0.8"/>
<rect x="486.30" y="230.28" width="8.30" height="0.32" fill="#ececec" stroke="#3a3a3a" stroke-width="1"/>
<rect x="489.45" y="230.78" width="1.99" height="0.10" fill="#fff"/>
<line x1="489.45" y1="230.28" x2="489.45" y2="230.60" stroke="#4a4a4a" stroke-width="0.8"/>
<line x1="491.45" y1="230.28" x2="491.45" y2="230.60" stroke="#4a4a4a" stroke-width="0.8"/>
<line x1="465.55" y1="142.56" x2="465.55" y2="152.21" stroke="#2a2a2a" stroke-width="0.75"/>
<line x1="463.45" y1="142.56" x2="467.65" y2="142.56" stroke="#2a2a2a" stroke-width="1"/>
<line x1="463.45" y1="152.21" x2="467.65" y2="152.21" stroke="#2a2a2a" stroke-width="1"/>
<line x1="473.85" y1="193.62" x2="473.85" y2="195.22" stroke="#2a2a2a" stroke-width="0.75"/>
<line x1="471.75" y1="193.62" x2="475.95" y2="193.62" stroke="#2a2a2a" stroke-width="1"/>
<line x1="482.15" y1="180.35" x2="482.15" y2="185.98" stroke="#2a2a2a" stroke-width="0.75"/>
<line x1="480.05" y1="180.35" x2="484.25" y2="180.35" stroke="#2a2a2a" stroke-width="1"/>
<line x1="480.05" y1="185.98" x2="484.25" y2="185.98" stroke="#2a2a2a" stroke-width="1"/>
<line x1="318.5" y1="129.6" x2="318.5" y2="245.5" stroke="#404040" stroke-width="1"/>
<line x1="318.0" y1="230.6" x2="501.0" y2="230.6" stroke="#404040" stroke-width="1"/>
<line x1="316.2" y1="230.6" x2="318.5" y2="230.6" stroke="#404040" stroke-width="1"/>
<text x="314" y="235.0" font-size="10" text-anchor="end" letter-spacing="0.1">0</text>
<line x1="316.2" y1="210.5" x2="318.5" y2="210.5" stroke="#404040" stroke-width="1"/>
<text x="314" y="214.9" font-size="10" text-anchor="end" letter-spacing="0.1">50</text>
<line x1="316.2" y1="190.39999999999998" x2="318.5" y2="190.39999999999998" stroke="#404040" stroke-width="1"/>
<text x="314" y="194.8" font-size="10" text-anchor="end" letter-spacing="0.1">100</text>
<line x1="316.2" y1="170.29999999999998" x2="318.5" y2="170.29999999999998" stroke="#404040" stroke-width="1"/>
<text x="314" y="174.7" font-size="10" text-anchor="end" letter-spacing="0.1">150</text>
<line x1="316.2" y1="150.2" x2="318.5" y2="150.2" stroke="#404040" stroke-width="1"/>
<text x="314" y="154.6" font-size="10" text-anchor="end" letter-spacing="0.1">200</text>
<line x1="316.2" y1="130.1" x2="318.5" y2="130.1" stroke="#404040" stroke-width="1"/>
<text x="314" y="134.5" font-size="10" text-anchor="end" letter-spacing="0.1">250</text>
<line x1="364.5" y1="230.6" x2="364.5" y2="238" stroke="#404040" stroke-width="1"/>
<line x1="409.5" y1="230.6" x2="409.5" y2="245.5" stroke="#404040" stroke-width="1"/>
<line x1="455.5" y1="230.6" x2="455.5" y2="238" stroke="#404040" stroke-width="1"/>
<line x1="500.5" y1="230.6" x2="500.5" y2="245.5" stroke="#404040" stroke-width="1"/>
</g>
<text x="328.8" y="243.7" font-size="10.4">-EGF</text>
<text x="374.5" y="243.7" font-size="10.4">+EGF</text>
<text x="421.5" y="243.7" font-size="10.4">-EGF</text>
<text x="466" y="243.7" font-size="10.4">+EGF</text>
<text x="361.3" y="258.1" font-size="10" font-weight="bold">48h</text>
<text x="451.5" y="258.1" font-size="10" font-weight="bold">72h</text>
<text x="353.5" y="228.2" font-size="9" font-weight="bold" text-anchor="middle">*</text>
<text x="399.5" y="228.2" font-size="9" font-weight="bold" text-anchor="middle">*</text>
<text x="445.3" y="228.2" font-size="9" font-weight="bold" text-anchor="middle">*</text>
<text x="490.3" y="228.2" font-size="9" font-weight="bold" text-anchor="middle">*</text>
<rect x="481.5" y="126.2" width="4.6" height="4.6" fill="#fff" stroke="#333" stroke-width="0.9"/>
<rect x="481.2" y="136.4" width="5.2" height="5.2" fill="#181818"/>
<rect x="481.5" y="147.1" width="4.6" height="4.6" fill="#f0f0f0" stroke="#444" stroke-width="0.9" stroke-dasharray="1.1 0.6"/>
<rect x="481.5" y="156.79999999999998" width="4.6" height="4.6" fill="#fff" stroke="#333" stroke-width="0.9"/>
<line x1="483" y1="156.79999999999998" x2="483" y2="161.4" stroke="#333" stroke-width="0.9"/>
<line x1="484.6" y1="156.79999999999998" x2="484.6" y2="161.4" stroke="#333" stroke-width="0.9"/>
<text x="489.1" y="132.1" font-size="8.6">DMSO</text>
<text x="489.1" y="142.1" font-size="8.6">CEP_28122</text>
<text x="489.1" y="152.4" font-size="8.6">SKI-1 (S)</text>
<text x="489.1" y="162.1" font-size="8.6">CEP-28122+S</text>
<text x="500.4" y="217.6" font-size="8" font-weight="bold">*</text>
<text x="503.8" y="218.8" font-size="10.5"><tspan font-style="italic">p</tspan><tspan dx="-0.6">&lt;</tspan>0.05</text>
<text x="264.8" y="290.3" font-size="15.5" font-weight="bold" stroke="#141414" stroke-width="0.35">e</text>
<text transform="translate(288.9 340) rotate(-90)" font-size="10.4" font-weight="bold" text-anchor="middle">% of apoptotic cells</text>
<g id="panel-e">
<rect x="325.00" y="376.06" width="8.55" height="12.19" fill="#fff" stroke="#3c3c3c" stroke-width="0.85"/>
<rect x="333.55" y="316.53" width="8.55" height="71.72" fill="#181818" stroke="#181818" stroke-width="0.6"/>
<rect x="342.10" y="377.94" width="8.55" height="10.31" fill="url(#dots)" stroke="#555" stroke-width="1" stroke-dasharray="1.2 0.8"/>
<rect x="350.65" y="317.47" width="8.55" height="70.78" fill="#ececec" stroke="#3a3a3a" stroke-width="1"/>
<rect x="353.90" y="317.97" width="2.05" height="70.28" fill="#fff"/>
<line x1="353.90" y1="317.47" x2="353.90" y2="388.25" stroke="#4a4a4a" stroke-width="0.8"/>
<line x1="355.95" y1="317.47" x2="355.95" y2="388.25" stroke="#4a4a4a" stroke-width="0.8"/>
<line x1="329.27" y1="375.50" x2="329.27" y2="376.06" stroke="#2a2a2a" stroke-width="0.75"/>
<line x1="327.17" y1="375.50" x2="331.38" y2="375.50" stroke="#2a2a2a" stroke-width="1"/>
<line x1="337.83" y1="314.47" x2="337.83" y2="316.53" stroke="#2a2a2a" stroke-width="0.75"/>
<line x1="335.73" y1="314.47" x2="339.93" y2="314.47" stroke="#2a2a2a" stroke-width="1"/>
<line x1="346.38" y1="376.06" x2="346.38" y2="377.94" stroke="#2a2a2a" stroke-width="0.75"/>
<line x1="344.27" y1="376.06" x2="348.48" y2="376.06" stroke="#2a2a2a" stroke-width="1"/>
<line x1="354.92" y1="317.09" x2="354.92" y2="317.47" stroke="#2a2a2a" stroke-width="0.75"/>
<line x1="352.82" y1="317.09" x2="357.02" y2="317.09" stroke="#2a2a2a" stroke-width="1"/>
<rect x="371.20" y="370.91" width="8.55" height="17.34" fill="#fff" stroke="#3c3c3c" stroke-width="0.85"/>
<rect x="379.75" y="340.06" width="8.55" height="48.19" fill="#181818" stroke="#181818" stroke-width="0.6"/>
<rect x="388.30" y="377.94" width="8.55" height="10.31" fill="url(#dots)" stroke="#555" stroke-width="1" stroke-dasharray="1.2 0.8"/>
<rect x="396.85" y="321.69" width="8.55" height="66.56" fill="#ececec" stroke="#3a3a3a" stroke-width="1"/>
<rect x="400.10" y="322.19" width="2.05" height="66.06" fill="#fff"/>
<line x1="400.10" y1="321.69" x2="400.10" y2="388.25" stroke="#4a4a4a" stroke-width="0.8"/>
<line x1="402.15" y1="321.69" x2="402.15" y2="388.25" stroke="#4a4a4a" stroke-width="0.8"/>
<line x1="375.48" y1="370.34" x2="375.48" y2="370.91" stroke="#2a2a2a" stroke-width="0.75"/>
<line x1="373.38" y1="370.34" x2="377.58" y2="370.34" stroke="#2a2a2a" stroke-width="1"/>
<line x1="384.02" y1="339.12" x2="384.02" y2="340.06" stroke="#2a2a2a" stroke-width="0.75"/>
<line x1="381.92" y1="339.12" x2="386.12" y2="339.12" stroke="#2a2a2a" stroke-width="1"/>
<rect x="417.00" y="368.09" width="8.55" height="20.16" fill="#fff" stroke="#3c3c3c" stroke-width="0.85"/>
<rect x="425.55" y="307.62" width="8.55" height="80.62" fill="#181818" stroke="#181818" stroke-width="0.6"/>
<rect x="434.10" y="375.12" width="8.55" height="13.12" fill="url(#dots)" stroke="#555" stroke-width="1" stroke-dasharray="1.2 0.8"/>
<rect x="442.65" y="303.88" width="8.55" height="84.38" fill="#ececec" stroke="#3a3a3a" stroke-width="1"/>
<rect x="445.90" y="304.38" width="2.05" height="83.88" fill="#fff"/>
<line x1="445.90" y1="303.88" x2="445.90" y2="388.25" stroke="#4a4a4a" stroke-width="0.8"/>
<line x1="447.95" y1="303.88" x2="447.95" y2="388.25" stroke="#4a4a4a" stroke-width="0.8"/>
<line x1="421.27" y1="363.41" x2="421.27" y2="368.09" stroke="#2a2a2a" stroke-width="0.75"/>
<line x1="419.17" y1="363.41" x2="423.38" y2="363.41" stroke="#2a2a2a" stroke-width="1"/>
<line x1="429.83" y1="307.06" x2="429.83" y2="307.62" stroke="#2a2a2a" stroke-width="0.75"/>
<line x1="427.73" y1="307.06" x2="431.93" y2="307.06" stroke="#2a2a2a" stroke-width="1"/>
<line x1="438.38" y1="372.31" x2="438.38" y2="375.12" stroke="#2a2a2a" stroke-width="0.75"/>
<line x1="436.27" y1="372.31" x2="440.48" y2="372.31" stroke="#2a2a2a" stroke-width="1"/>
<line x1="446.92" y1="302.94" x2="446.92" y2="303.88" stroke="#2a2a2a" stroke-width="0.75"/>
<line x1="444.82" y1="302.94" x2="449.02" y2="302.94" stroke="#2a2a2a" stroke-width="1"/>
<rect x="462.60" y="369.50" width="8.55" height="18.75" fill="#fff" stroke="#3c3c3c" stroke-width="0.85"/>
<rect x="471.15" y="324.50" width="8.55" height="63.75" fill="#181818" stroke="#181818" stroke-width="0.6"/>
<rect x="479.70" y="376.06" width="8.55" height="12.19" fill="url(#dots)" stroke="#555" stroke-width="1" stroke-dasharray="1.2 0.8"/>
<rect x="488.25" y="304.34" width="8.55" height="83.91" fill="#ececec" stroke="#3a3a3a" stroke-width="1"/>
<rect x="491.50" y="304.84" width="2.05" height="83.41" fill="#fff"/>
<line x1="491.50" y1="304.34" x2="491.50" y2="388.25" stroke="#4a4a4a" stroke-width="0.8"/>
<line x1="493.55" y1="304.34" x2="493.55" y2="388.25" stroke="#4a4a4a" stroke-width="0.8"/>
<line x1="475.43" y1="322.62" x2="475.43" y2="324.50" stroke="#2a2a2a" stroke-width="0.75"/>
<line x1="473.33" y1="322.62" x2="477.53" y2="322.62" stroke="#2a2a2a" stroke-width="1"/>
<line x1="483.98" y1="375.50" x2="483.98" y2="376.06" stroke="#2a2a2a" stroke-width="0.75"/>
<line x1="481.88" y1="375.50" x2="486.08" y2="375.50" stroke="#2a2a2a" stroke-width="1"/>
<line x1="492.52" y1="303.41" x2="492.52" y2="304.34" stroke="#2a2a2a" stroke-width="0.75"/>
<line x1="490.42" y1="303.41" x2="494.62" y2="303.41" stroke="#2a2a2a" stroke-width="1"/>
<line x1="319.5" y1="294.0" x2="319.5" y2="408" stroke="#404040" stroke-width="1"/>
<line x1="319.0" y1="388.25" x2="503.0" y2="388.25" stroke="#404040" stroke-width="1"/>
<line x1="317.2" y1="388.25" x2="319.5" y2="388.25" stroke="#404040" stroke-width="1"/>
<text x="314" y="392.45" font-size="10" text-anchor="end" letter-spacing="0.1">0</text>
<line x1="317.2" y1="369.5" x2="319.5" y2="369.5" stroke="#404040" stroke-width="1"/>
<text x="314" y="373.7" font-size="10" text-anchor="end" letter-spacing="0.1">20</text>
<line x1="317.2" y1="350.75" x2="319.5" y2="350.75" stroke="#404040" stroke-width="1"/>
<text x="314" y="354.95" font-size="10" text-anchor="end" letter-spacing="0.1">40</text>
<line x1="317.2" y1="332.0" x2="319.5" y2="332.0" stroke="#404040" stroke-width="1"/>
<text x="314" y="336.2" font-size="10" text-anchor="end" letter-spacing="0.1">60</text>
<line x1="317.2" y1="313.25" x2="319.5" y2="313.25" stroke="#404040" stroke-width="1"/>
<text x="314" y="317.45" font-size="10" text-anchor="end" letter-spacing="0.1">80</text>
<line x1="317.2" y1="294.5" x2="319.5" y2="294.5" stroke="#404040" stroke-width="1"/>
<text x="314" y="298.7" font-size="10" text-anchor="end" letter-spacing="0.1">100</text>
<line x1="364.5" y1="388.25" x2="364.5" y2="397.5" stroke="#404040" stroke-width="1"/>
<line x1="411.5" y1="388.25" x2="411.5" y2="408" stroke="#404040" stroke-width="1"/>
<line x1="455.5" y1="388.25" x2="455.5" y2="397.5" stroke="#404040" stroke-width="1"/>
<line x1="502.5" y1="388.25" x2="502.5" y2="408" stroke="#404040" stroke-width="1"/>
</g>
<text x="328.8" y="401.3" font-size="10.4">-EGF</text>
<text x="374.8" y="401.3" font-size="10.4">+EGF</text>
<text x="421.3" y="401.3" font-size="10.4">-EGF</text>
<text x="464.8" y="401.3" font-size="10.4">+EGF</text>
<text x="361.3" y="417.1" font-size="10" font-weight="bold">48h</text>
<text x="451.3" y="417.1" font-size="10" font-weight="bold">72h</text>
</svg>
</body>
</html>
